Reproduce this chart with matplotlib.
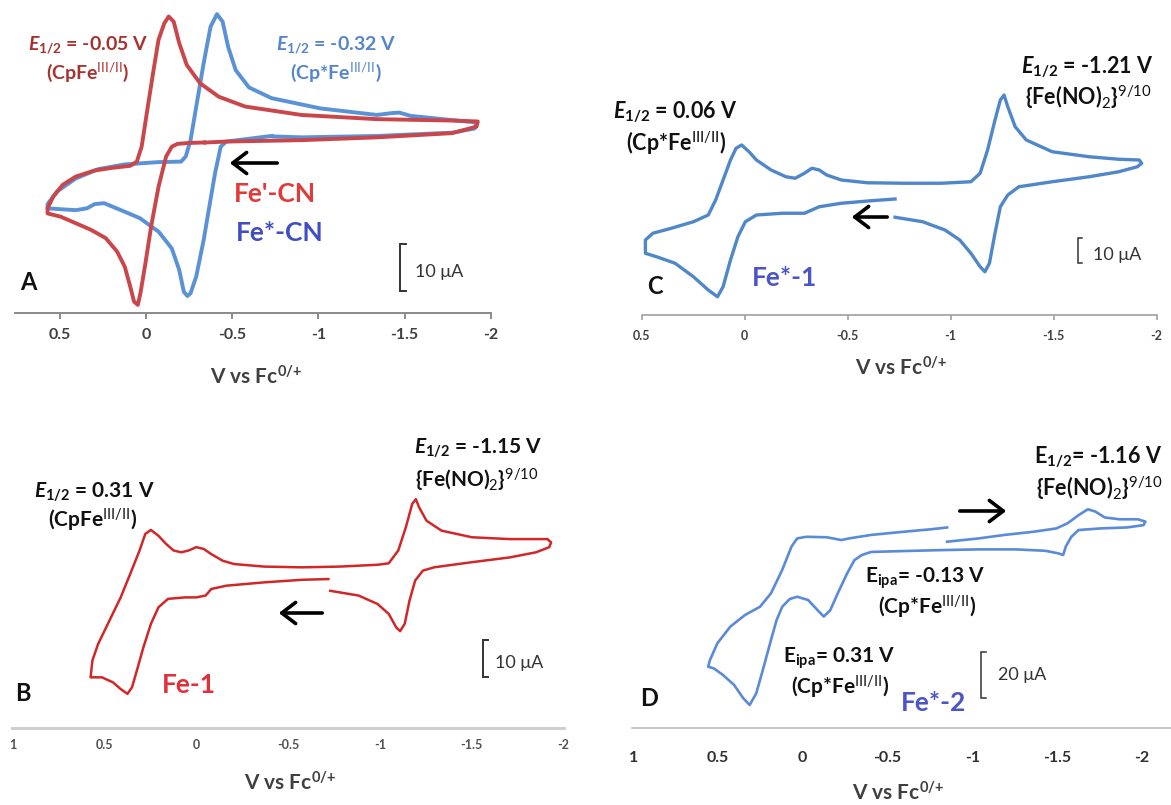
"""Cyclic voltammograms, panels A-D, vs Fc0/+."""
import matplotlib
matplotlib.use("Agg")
import matplotlib.pyplot as plt
from matplotlib.patches import FancyArrowPatch

plt.rcParams['font.family'] = ['Lato', 'DejaVu Sans']
plt.rcParams['mathtext.fontset'] = 'custom'
plt.rcParams['mathtext.rm'] = 'Lato:bold'
plt.rcParams['mathtext.it'] = 'Lato:bold:italic'
plt.rcParams['mathtext.bf'] = 'Lato:bold'
plt.rcParams['mathtext.sf'] = 'Lato'

# ---- data (potential in V vs Fc0/+, current in uA, arbitrary offset) ----
# A: Fe'-CN (red) and Fe*-CN (blue)
a_red_v = [-0.334, -0.247, -0.182, -0.149, -0.116, -0.072, -0.029, 0.004, 0.033, 0.048,
           0.070, 0.092, 0.124, 0.168, 0.234, 0.321, 0.408, 0.496, 0.572, 0.572,
           0.539, 0.485, 0.408, 0.299, 0.190, 0.092, 0.054, 0.026, -0.007, -0.040,
           -0.072, -0.105, -0.131, -0.160, -0.192, -0.236, -0.313, -0.422, -0.575, -0.902,
           -1.339, -1.776, -1.925, -1.918, -1.776, -1.339, -0.902, -0.465, -0.345]
a_red_i = [36.6, 36.5, 36.3, 35.7, 33.6, 27.1, 18.6, 10.7, 4.3, 1.8,
           2.5, 5.7, 10.0, 13.2, 16.1, 17.9, 19.3, 20.7, 21.4, 22.5,
           25.0, 27.5, 29.3, 30.6, 31.2, 31.6, 32.5, 35.7, 43.6, 51.4,
           58.6, 62.1, 63.6, 62.5, 57.9, 53.2, 49.3, 46.4, 44.3, 42.5,
           41.6, 41.3, 41.1, 40.0, 38.6, 37.7, 37.1, 36.8, 36.6]
a_blue_v = [-0.728, -0.575, -0.465, -0.433, -0.400, -0.367, -0.334, -0.291, -0.258, -0.240,
            -0.219, -0.192, -0.149, -0.072, 0.037, 0.146, 0.244, 0.299, 0.343, 0.408,
            0.496, 0.572, 0.572, 0.517, 0.408, 0.277, 0.124, -0.072, -0.203, -0.230,
            -0.258, -0.291, -0.334, -0.374, -0.411, -0.444, -0.476, -0.520, -0.597, -0.728,
            -1.012, -1.339, -1.427, -1.470, -1.536, -1.776, -1.918, -1.907, -1.776, -1.339,
            -0.902, -0.739]
a_blue_i = [38.0, 37.3, 36.8, 35.7, 30.0, 22.9, 15.7, 7.9, 4.3, 3.7,
            4.6, 9.3, 13.9, 17.5, 20.4, 22.1, 23.6, 23.4, 22.5, 22.1,
            22.3, 22.5, 23.4, 26.1, 28.9, 30.9, 31.9, 32.4, 32.5, 33.6,
            37.1, 44.3, 53.6, 61.4, 64.1, 62.5, 57.1, 52.1, 48.4, 46.1,
            43.9, 42.5, 42.9, 43.0, 42.3, 41.4, 40.9, 39.6, 38.7, 38.0,
            37.7, 37.9]

# B: Fe-1
b_v = [-0.728, -0.883, -0.986, -1.047, -1.088, -1.109, -1.134, -1.160, -1.191, -1.233,
       -1.294, -1.500, -1.706, -1.850, -1.922, -1.932, -1.912, -1.706, -1.500, -1.335,
       -1.253, -1.212, -1.195, -1.175, -1.140, -1.099, -1.047, -0.986, -0.780, -0.574,
       -0.368, -0.204, -0.142, -0.080, -0.039, 0.002, 0.043, 0.084, 0.126, 0.167,
       0.208, 0.249, 0.280, 0.311, 0.362, 0.414, 0.475, 0.537, 0.568, 0.578,
       0.516, 0.455, 0.414, 0.377, 0.352, 0.321, 0.290, 0.249, 0.208, 0.156,
       0.064, 0.002, -0.049, -0.080, -0.163, -0.368, -0.574, -0.718]
b_i = [37.5, 36.2, 33.9, 31.2, 27.5, 26.5, 28.5, 34.8, 40.3, 43.0,
       43.9, 45.3, 46.6, 48.0, 49.4, 50.7, 51.6, 51.6, 52.1, 53.9,
       56.6, 60.3, 62.5, 61.2, 54.8, 48.5, 45.0, 44.6, 44.1, 43.9,
       44.1, 44.8, 45.7, 47.5, 48.9, 49.4, 48.5, 48.0, 48.5, 50.3,
       52.5, 54.1, 53.0, 48.5, 42.1, 35.7, 29.4, 23.0, 18.5, 13.9,
       13.9, 12.5, 10.7, 9.4, 11.2, 16.6, 22.1, 28.5, 33.0, 35.3,
       35.7, 35.7, 36.2, 38.0, 38.9, 39.8, 40.5, 40.7]

# C: Fe*-1
c_v = [-0.730, -0.864, -0.972, -1.044, -1.098, -1.143, -1.166, -1.188, -1.215, -1.241,
       -1.277, -1.331, -1.493, -1.672, -1.816, -1.906, -1.927, -1.915, -1.816, -1.672,
       -1.493, -1.367, -1.313, -1.277, -1.259, -1.241, -1.215, -1.179, -1.143, -1.098,
       -0.954, -0.775, -0.595, -0.469, -0.398, -0.362, -0.326, -0.290, -0.245, -0.200,
       -0.128, -0.057, -0.021, 0.015, 0.042, 0.069, 0.105, 0.141, 0.177, 0.249,
       0.356, 0.446, 0.482, 0.482, 0.428, 0.338, 0.249, 0.177, 0.132, 0.105,
       0.069, 0.033, -0.003, -0.057, -0.182, -0.290, -0.326, -0.362, -0.469, -0.613,
       -0.730]
c_i = [39.1, 37.3, 34.0, 30.0, 24.7, 19.3, 17.3, 20.7, 32.7, 43.3,
       48.0, 51.3, 53.3, 55.3, 57.3, 59.3, 60.7, 62.0, 62.3, 63.3,
       65.3, 70.0, 75.3, 83.3, 88.0, 86.0, 78.0, 66.0, 56.7, 53.3,
       52.7, 52.7, 52.9, 54.0, 56.0, 58.0, 58.7, 56.7, 54.7, 55.3,
       58.0, 62.0, 65.3, 68.0, 66.7, 62.0, 54.0, 46.0, 40.0, 37.3,
       34.7, 32.7, 30.0, 24.7, 23.3, 20.7, 15.3, 10.0, 7.3, 11.3,
       22.0, 31.3, 37.3, 40.0, 40.7, 40.7, 42.0, 43.3, 44.7, 45.7,
       46.4]

# D: Fe*-2
d_v = [-0.852, -1.038, -1.191, -1.366, -1.497, -1.563, -1.628, -1.683, -1.727, -1.782,
       -1.869, -1.978, -2.022, -2.011, -1.913, -1.760, -1.628, -1.585, -1.552, -1.537,
       -1.508, -1.432, -1.257, -1.038, -0.819, -0.601, -0.404, -0.349, -0.305, -0.262,
       -0.207, -0.163, -0.124, -0.087, -0.032, 0.033, 0.077, 0.121, 0.154, 0.187,
       0.230, 0.274, 0.313, 0.351, 0.405, 0.471, 0.525, 0.558, 0.547, 0.504,
       0.427, 0.340, 0.252, 0.187, 0.121, 0.066, 0.033, -0.021, -0.141, -0.229,
       -0.273, -0.404, -0.601, -0.754, -0.852]
d_i = [80.0, 81.4, 82.9, 84.3, 85.7, 87.9, 91.4, 93.9, 92.9, 90.4,
       89.6, 89.6, 88.6, 87.1, 86.1, 85.7, 85.0, 82.1, 77.9, 74.3,
       75.0, 76.1, 76.7, 76.7, 76.4, 76.0, 75.6, 74.3, 72.1, 66.4,
       57.9, 50.7, 47.9, 50.7, 55.0, 56.4, 55.4, 52.1, 46.4, 37.9,
       26.4, 15.0, 10.0, 12.9, 18.6, 22.9, 25.7, 26.4, 29.3, 36.4,
       43.6, 48.6, 52.1, 57.9, 67.9, 77.9, 81.4, 82.1, 81.9, 80.7,
       81.4, 82.9, 84.3, 85.3, 86.1]

ticks_acd = [0.5, 0, -0.5, -1, -1.5, -2]
ticks_bd = [1, 0.5, 0, -0.5, -1, -1.5, -2]
tick_labels_acd = ['0.5', '0', '-0.5', '-1', '-1.5', '-2']
tick_labels_bd = ['1', '0.5', '0', '-0.5', '-1', '-1.5', '-2']

# ---- layout helpers (pixel positions in a 1171 x 805 canvas) ----
W, H = 1171, 805
fig = plt.figure(figsize=(W / 100, H / 100), dpi=100)


def fx(px):
    return px / W


def fy(py):
    return 1 - py / H


def make_axes(x0, x1, y_spine, y_top, xlim, ylim):
    ax = fig.add_axes([fx(x0), fy(y_spine), (x1 - x0) / W, (y_spine - y_top) / H])
    ax.set_xlim(*xlim)
    ax.set_ylim(*ylim)
    ax.patch.set_alpha(0)
    ax.spines[['top', 'left', 'right']].set_visible(False)
    ax.set_yticks([])
    return ax


def text(px, py, s, size=15, color='#111111', weight='bold', ha='center'):
    fig.text(fx(px), fy(py), s, fontsize=size, color=color, fontweight=weight,
             ha=ha, va='center')


def arrow(x_tail, x_head, py):
    fig.add_artist(FancyArrowPatch((fx(x_tail), fy(py)), (fx(x_head), fy(py)),
                                   transform=fig.transFigure,
                                   arrowstyle='->,head_length=0.5,head_width=0.38',
                                   mutation_scale=20, lw=2.6, color='black'))


def scale_bar(ax, v, i0, length, dv, lw=1.4):
    ax.plot([v - dv, v, v, v - dv], [i0, i0, i0 + length, i0 + length],
            color='#333333', lw=lw, solid_joinstyle='miter')


half = r'$\mathit{E}_{\mathit{1/2}}$'
cpfe = r'(CpFe$^{\mathsf{III/II}}$)'
cpsfe = r'(Cp*Fe$^{\mathsf{III/II}}$)'
feno = r'{Fe(NO)$_{\mathsf{2}}$}$^{\mathsf{9/10}}$'
xlab = r'V vs Fc$^{\mathbf{0/{+}}}$'
ua10 = '10 \u03bcA'

# ---- Panel A ----
ax = make_axes(15, 490.7, 313.3, 5, (0.761, -2.0), (0, 66.06))
ax.plot(a_blue_v, a_blue_i, color='#5b92d6', lw=2.8, solid_joinstyle='round')
ax.plot(a_red_v, a_red_i, color='#c9474b', lw=2.8, solid_joinstyle='round')
ax.spines['bottom'].set_color('#8a8a8a')
ax.spines['bottom'].set_linewidth(1.4)
ax.set_xticks(ticks_acd)
ax.set_xticklabels(tick_labels_acd, fontsize=11.5, fontweight='bold', color='#404040')
ax.tick_params(axis='x', direction='out', length=4.5, width=1.4, color='#8a8a8a', pad=6)
scale_bar(ax, -1.474, 4.78, 10, 0.035)
text(88, 45, half + ' = -0.05 V', size=14, color='#a8322f')
text(88, 72, cpfe, size=14, color='#a8322f')
text(336, 45, half + ' = -0.32 V', size=14, color='#5585cc')
text(336, 72, cpsfe, size=14, color='#5585cc')
text(275, 194, "Fe'-CN", size=19, color='#e03a3a')
text(280, 233, 'Fe*-CN', size=19, color='#3f4fc0')
text(28, 282, 'A', size=17)
text(415, 272, ua10, size=13, color='#333333', weight='normal', ha='left')
text(256, 377, xlab, size=15, color='#404040')
arrow(280, 227, 163)

# ---- Panel B ----
ax = make_axes(11.5, 563.6, 728.3, 405, (1.009, -2.0), (0, 88.17))
ax.plot(b_v, b_i, color='#d02828', lw=1.8, solid_joinstyle='round')
ax.spines['bottom'].set_color('#d0d0d0')
ax.spines['bottom'].set_linewidth(2.2)
ax.set_xticks(ticks_bd)
ax.set_xticklabels(tick_labels_bd, fontsize=9, fontweight='bold', color='#505050')
ax.tick_params(axis='x', length=0, pad=8)
scale_bar(ax, -1.559, 14.07, 10, 0.027)
text(94, 492, half + ' = 0.31 V')
text(93, 520, cpfe)
text(478, 448, half + ' = -1.15 V')
text(477, 480, feno)
text(189, 685, 'Fe-1', size=19, color='#e0303a')
text(23, 693, 'B', size=17)
text(495, 663, ua10, size=13, color='#333333', weight='normal', ha='left')
text(290, 783, xlab, size=15, color='#404040')
arrow(325, 276, 613)

# ---- Panel C ----
ax = make_axes(641.7, 1156.7, 315, 5, (0.5, -2.0), (0, 124))
ax.plot(c_v, c_i, color='#4f87c9', lw=2.4, solid_joinstyle='round')
ax.spines['bottom'].set_color('#a0a0a0')
ax.spines['bottom'].set_linewidth(1.2)
ax.set_xticks(ticks_acd)
ax.set_xticklabels(tick_labels_acd, fontsize=9, fontweight='bold', color='#404040')
ax.tick_params(axis='x', direction='out', length=3.5, width=1.2, color='#a0a0a0', pad=7)
scale_bar(ax, -1.619, 20.7, 10, 0.02, lw=1.1)
text(675, 112, half + ' = 0.06 V', size=15.5)
text(676, 143, cpsfe, size=15.5)
text(1087, 67, half + ' = -1.21 V', size=15.5)
text(1088, 97, feno, size=15.5)
text(784, 278, 'Fe*-1', size=19, color='#4b55c8')
text(655, 287, 'C', size=17)
text(1093, 255, ua10, size=13, color='#333333', weight='normal', ha='left')
text(901, 368, xlab, size=15, color='#404040')
arrow(890, 849, 217)

# ---- Panel D ----
ax = make_axes(631.7, 1171, 728.3, 405, (1.009, -2.173), (0, 138.6))
ax.plot(d_v, d_i, color='#5a8ad8', lw=1.9, solid_joinstyle='round')
ax.spines['bottom'].set_color('#c8c8c8')
ax.spines['bottom'].set_linewidth(1.4)
ax.set_xticks(ticks_bd)
ax.set_xticklabels(tick_labels_bd, fontsize=11.5, fontweight='bold', color='#303030')
ax.tick_params(axis='x', length=0, pad=16)
scale_bar(ax, -1.051, 12.86, 20, 0.03, lw=1.1)
text(1098, 457, r'E$_{\mathrm{1/2}}$= -1.16 V', size=15.5)
text(1099, 488, feno, size=15.5)
text(925, 578, r'E$_{\mathrm{ipa}}$= -0.13 V', size=15)
text(927, 607, cpsfe, size=15)
text(839, 658, r'E$_{\mathrm{ipa}}$= 0.31 V', size=15)
text(840, 687, cpsfe, size=15)
text(934, 703, 'Fe*-2', size=19, color='#4b55c8')
text(649, 698, 'D', size=17)
text(998, 675, '20 \u03bcA', size=13, color='#333333', weight='normal', ha='left')
text(898, 793, xlab, size=15, color='#404040')
arrow(957, 1009, 511)

fig.savefig('out.png', dpi=100, facecolor='white')
